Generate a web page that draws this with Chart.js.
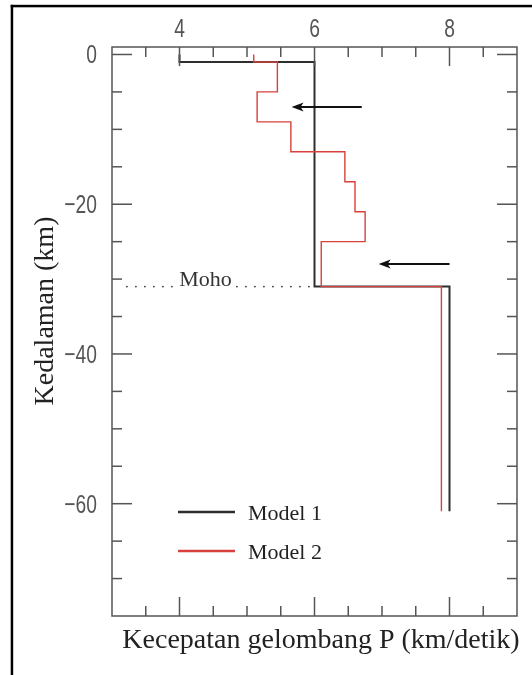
<!DOCTYPE html>
<html><head><meta charset="utf-8">
<script src="https://cdn.jsdelivr.net/npm/chart.js@4.4.1/dist/chart.umd.min.js"></script>
<style>html,body{margin:0;padding:0;background:#fff;}canvas{display:block;}</style>
</head><body>
<canvas id="c" width="532" height="675"></canvas>
<script>
// ---- data ----
const model1Velocity = [4, 6, 8];
const model1Depth = [0, -1, -31, -61];
const model2Velocity = [5.1, 5.45, 5.15, 5.65, 6.45, 6.6, 6.75, 6.1, 7.88];
const model2Depth = [0, -1, -5, -9, -13, -17, -21, -25, -31, -61];
const seriesNames = ['Model 1', 'Model 2'];
const xTickLabels = [4, 6, 8];
const xMinorTicks = [3.5, 4.5, 5, 5.5, 6.5, 7, 7.5, 8.5];
const yTickLabels = [0, -20, -40, -60];
const yMinorTicks = [-5, -10, -15, -25, -30, -35, -45, -50, -55, -65, -70];
const mohoDepth = -31;
const mohoLabel = 'Moho';
const mohoDotsX = [3.22, 3.98, 4.85, 5.92];
const arrowTailX = [6.7, 8.0];
const arrowHeadX = [5.66, 6.95];
const arrowDepth = [-7, -28];
const xTitle = 'Kecepatan gelombang P (km/detik)';
const yTitle = 'Kedalaman (km)';

function profile(v, d) {
  const pts = [];
  v.forEach((vi, i) => { pts.push({x: vi, y: d[i]}); pts.push({x: vi, y: d[i + 1]}); });
  return pts;
}
const fmtX = v => String(v);
const fmtY = v => v === 0 ? '0' : '\u2212' + Math.abs(v);

const SERIF = "'Liberation Serif', 'Times New Roman', serif";
const SANS = "'Liberation Sans', Arial, sans-serif";

const decor = {
  id: 'decor',
  beforeDraw(chart) {
    const ctx = chart.ctx;
    ctx.save();
    ctx.fillStyle = '#000';
    ctx.fillRect(10.7, 4.8, 2.5, 675);
    ctx.fillRect(10.7, 4.8, 532, 2.5);
    ctx.restore();
  },
  afterDraw(chart) {
    const {ctx, chartArea: a, scales: {x, y}} = chart;
    ctx.save();
    ctx.strokeStyle = '#555';
    ctx.lineWidth = 1.5;
    const seg = (x1, y1, x2, y2) => { ctx.beginPath(); ctx.moveTo(x1, y1); ctx.lineTo(x2, y2); ctx.stroke(); };
    [...xTickLabels.map(v => [v, 19]), ...xMinorTicks.map(v => [v, 10])].forEach(([v, l]) => {
      const p = x.getPixelForValue(v);
      seg(p, a.top, p, a.top + l);
      seg(p, a.bottom, p, a.bottom - l);
    });
    [...yTickLabels.map(v => [v, 20]), ...yMinorTicks.map(v => [v, 10])].forEach(([v, l]) => {
      const p = y.getPixelForValue(v);
      seg(a.left, p, a.left + l, p);
      seg(a.right, p, a.right - l, p);
    });
    ctx.strokeRect(a.left, a.top, a.right - a.left, a.bottom - a.top);

    // tick labels (condensed look)
    ctx.fillStyle = '#555';
    ctx.font = '26px ' + SANS;
    ctx.textBaseline = 'alphabetic';
    xTickLabels.forEach(v => {
      ctx.save();
      ctx.translate(x.getPixelForValue(v), a.top - 10);
      ctx.scale(0.74, 1);
      ctx.textAlign = 'center';
      ctx.fillText(fmtX(v), 0, 0);
      ctx.restore();
    });
    yTickLabels.forEach(v => {
      ctx.save();
      ctx.translate(a.left - 15, y.getPixelForValue(v) + 9);
      ctx.scale(0.74, 1);
      ctx.textAlign = 'right';
      ctx.fillText(fmtY(v), 0, 0);
      ctx.restore();
    });

    // arrows
    ctx.strokeStyle = '#111'; ctx.fillStyle = '#111'; ctx.lineWidth = 2;
    arrowDepth.forEach((d, i) => {
      const py = y.getPixelForValue(d);
      const tx = x.getPixelForValue(arrowTailX[i]);
      const hx = x.getPixelForValue(arrowHeadX[i]);
      seg(tx, py, hx + 8, py);
      ctx.beginPath();
      ctx.moveTo(hx, py);
      ctx.lineTo(hx + 12, py - 4.5);
      ctx.lineTo(hx + 9, py);
      ctx.lineTo(hx + 12, py + 4.5);
      ctx.closePath();
      ctx.fill();
    });

    // Moho label
    ctx.fillStyle = '#333';
    ctx.font = '22px ' + SERIF;
    ctx.textAlign = 'center';
    ctx.textBaseline = 'alphabetic';
    const mx = (x.getPixelForValue(mohoDotsX[1]) + x.getPixelForValue(mohoDotsX[2])) / 2;
    ctx.fillText(mohoLabel, mx - 2, y.getPixelForValue(mohoDepth) - 0.5);

    // legend
    const ds = chart.data.datasets;
    [0, 1].forEach(i => {
      const ly = 512 + i * 39;
      ctx.strokeStyle = ds[i].borderColor;
      ctx.lineWidth = 2.6;
      seg(178, ly, 235, ly);
      ctx.fillStyle = '#222';
      ctx.font = '22px ' + SERIF;
      ctx.textAlign = 'left';
      ctx.textBaseline = 'middle';
      ctx.fillText(ds[i].label, 248, ly + 2);
    });

    // axis titles
    ctx.fillStyle = '#222';
    ctx.font = '28px ' + SERIF;
    ctx.textAlign = 'center';
    ctx.textBaseline = 'alphabetic';
    ctx.fillText(xTitle, 321, 648);
    ctx.translate(53, 311);
    ctx.rotate(-Math.PI / 2);
    ctx.fillText(yTitle, 0, 0);
    ctx.restore();
  }
};

new Chart(document.getElementById('c'), {
  type: 'line',
  data: {
    datasets: [
      { label: seriesNames[0], data: profile(model1Velocity, model1Depth), borderColor: '#2e2e2e', borderWidth: 2, pointRadius: 0, order: 2 },
      { label: seriesNames[1], data: profile(model2Velocity, model2Depth), borderColor: '#d8403c', borderWidth: 1.4, pointRadius: 0, order: 1 },
      { label: 'moho', data: [{x: mohoDotsX[0], y: mohoDepth}, {x: mohoDotsX[1], y: mohoDepth}, {x: (mohoDotsX[1] + mohoDotsX[2]) / 2, y: null}, {x: mohoDotsX[2], y: mohoDepth}, {x: mohoDotsX[3], y: mohoDepth}],
        borderColor: '#444', borderWidth: 1.8, borderDash: [0.1, 8.9], borderCapStyle: 'round', pointRadius: 0, spanGaps: false, order: 3 }
    ]
  },
  options: {
    responsive: false,
    animation: false,
    devicePixelRatio: 1,
    layout: { padding: { left: 0, top: 0, right: 15, bottom: 59 } },
    plugins: { legend: { display: false }, tooltip: { enabled: false } },
    scales: {
      x: {
        type: 'linear', position: 'top', min: 3, max: 9,
        grid: { display: false, drawTicks: false }, border: { display: false },
        afterBuildTicks: s => { s.ticks = xTickLabels.map(v => ({value: v})); },
        afterFit: s => { s.height = 47; },
        ticks: { display: false }
      },
      y: {
        type: 'linear', position: 'left', min: -75, max: 1,
        grid: { display: false, drawTicks: false }, border: { display: false },
        afterBuildTicks: s => { s.ticks = yTickLabels.map(v => ({value: v})); },
        afterFit: s => { s.width = 112; },
        ticks: { display: false }
      }
    }
  },
  plugins: [decor]
});
</script>
</body></html>
